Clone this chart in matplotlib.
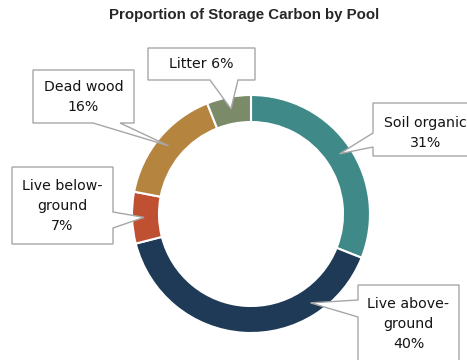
import matplotlib
matplotlib.use("Agg")
import numpy as np
import matplotlib.pyplot as plt
from matplotlib.patches import Polygon

# carbon pools, clockwise from 12 o'clock
pools = ["Soil organic", "Live above-\nground", "Live below-\nground", "Dead wood", "Litter"]
shares = [31, 40, 7, 16, 6]
colors = ["#3f8a88", "#1f3a56", "#bf5032", "#b5843f", "#7b8a69"]

W, H = 467, 360
CX, CY, R, RING = 251, 214, 119, 27

# callout boxes in pixel space (y down): box, edge the pointer leaves from,
# span of the pointer base on that edge, where along the wedge it points
callouts = [
    dict(box=(373, 103, 478, 156), side="left", base=(133, 147), frac=0.5, sep="\n"),
    dict(box=(358, 285, 459, 372), side="left", base=(300, 317), frac=0.24, sep="\n"),
    dict(box=(12, 167, 113, 244), side="right", base=(212, 228), frac=0.5, sep="\n"),
    dict(box=(33, 70, 134, 123), side="bottom", base=(93, 120), frac=0.5, sep="\n"),
    dict(box=(148, 48, 255, 80), side="bottom", base=(210, 238), frac=0.5, sep=" "),
]
text_y = [133, 324, 206, 97, 64]

fig = plt.figure(figsize=(W / 100, H / 100), dpi=100)
ax = fig.add_axes([0, 0, 1, 1])

wedges, _ = ax.pie(shares, colors=colors, startangle=90, counterclock=False,
                   radius=R, center=(CX, H - CY),
                   wedgeprops=dict(width=RING, edgecolor="white", linewidth=1.5))
ax.set_xlim(0, W)
ax.set_ylim(0, H)
ax.set_aspect("equal")
ax.axis("off")


def callout_outline(box, side, base, tip):
    x0, y0, x1, y1 = box
    b1, b2 = base
    if side == "bottom":
        pts = [(x0, y0), (x1, y0), (x1, y1), (b2, y1), tip, (b1, y1), (x0, y1)]
    elif side == "left":
        pts = [(x0, y0), (x1, y0), (x1, y1), (x0, y1), (x0, b2), tip, (x0, b1)]
    else:
        pts = [(x0, y0), (x1, y0), (x1, b1), tip, (x1, b2), (x1, y1), (x0, y1)]
    return [(x, H - y) for x, y in pts]


for w, name, share, c, ty in zip(wedges, pools, shares, callouts, text_y):
    # clockwise pie: slice starts at theta2 and runs down to theta1
    ang = np.radians(w.theta2 - c["frac"] * (w.theta2 - w.theta1))
    rr = R - 12
    tip = (CX + rr * np.cos(ang), CY - rr * np.sin(ang))
    poly = Polygon(callout_outline(c["box"], c["side"], c["base"], tip), closed=True,
                   facecolor="white", edgecolor="#a6a6a6", linewidth=1, zorder=3)
    ax.add_patch(poly)
    x0, y0, x1, y1 = c["box"]
    ax.text((x0 + x1) / 2, H - ty, f"{name}{c['sep']}{share}%",
            ha="center", va="center", fontsize=10.2, color="#141414",
            linespacing=1.55, zorder=4)

fig.text(244 / W, 1 - 15 / H, "Proportion of Storage Carbon by Pool",
         ha="center", va="center", fontsize=10.8, fontweight="bold",
         family="Liberation Sans", color="#262626")

fig.savefig("out.png", dpi=100)
